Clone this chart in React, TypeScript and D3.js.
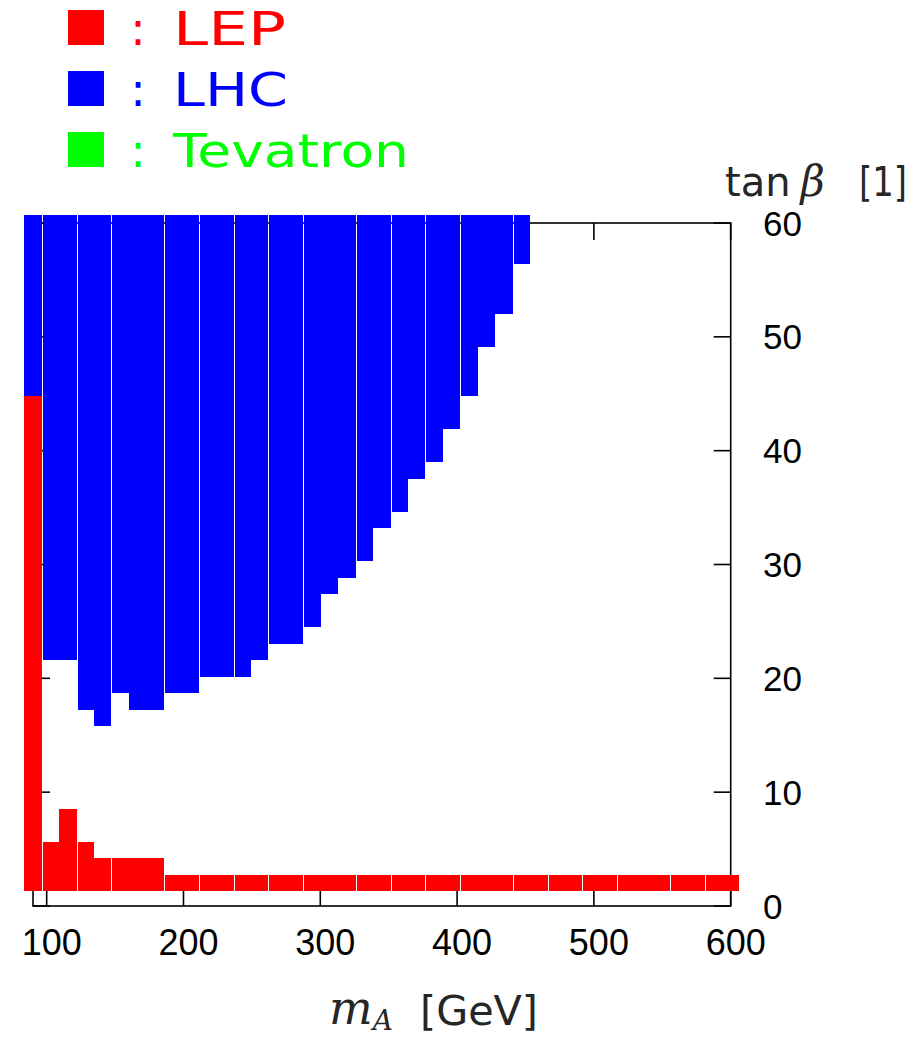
import React from 'react';
import * as d3 from 'd3';

// scan grid (cell centres)
const mAGrid = [
  90, 102.75, 115.5, 128.25, 141, 153.75, 166.5, 179.25, 192, 204.75, 217.5,
  230.25, 243, 255.75, 268.5, 281.25, 294, 306.75, 319.5, 332.25, 345, 357.75,
  370.5, 383.25, 396, 408.75, 421.5, 434.25, 447, 459.75, 472.5, 485.25, 498,
  510.75, 523.5, 536.25, 549, 561.75, 574.5, 587.25, 600
];
const tanBetaGrid = [
  2, 3.45, 4.9, 6.35, 7.8, 9.25, 10.7, 12.15, 13.6, 15.05, 16.5, 17.95, 19.4,
  20.85, 22.3, 23.75, 25.2, 26.65, 28.1, 29.55, 31, 32.45, 33.9, 35.35, 36.8,
  38.25, 39.7, 41.15, 42.6, 44.05, 45.5, 46.95, 48.4, 49.85, 51.3, 52.75, 54.2,
  55.65, 57.1, 58.55, 60
];

// highest tan(beta) grid point excluded by LEP, per mA column
const lepMax = [
  44.05, 4.9, 7.8, 4.9, 3.45, 3.45, 3.45, 3.45, 2, 2, 2, 2, 2, 2, 2, 2, 2, 2, 2,
  2, 2, 2, 2, 2, 2, 2, 2, 2, 2, 2, 2, 2, 2, 2, 2, 2, 2, 2, 2, 2, 2
];
// lowest tan(beta) grid point excluded by LHC, per mA column (null = none)
const lhcMin = [
  45.5, 22.3, 22.3, 17.95, 16.5, 19.4, 17.95, 17.95, 19.4, 19.4, 20.85, 20.85,
  20.85, 22.3, 23.75, 23.75, 25.2, 28.1, 29.55, 31, 33.9, 35.35, 38.25, 39.7,
  42.6, 45.5, 49.85, 52.75, 57.1, null, null, null, null, null, null, null,
  null, null, null, null, null
];
// lowest tan(beta) excluded by Tevatron (none in this scan)
const tevMin = mAGrid.map(() => null);

// column boundaries where the rendered map shows a thin white seam
const seams = [1, 3, 5, 8, 10, 12, 14, 16, 19, 21, 23, 25, 28, 30, 32, 34, 37, 39];

const xTicks = [100, 200, 300, 400, 500, 600];
const yTicks = [0, 10, 20, 30, 40, 50, 60];

const legend = [
  { label: 'LEP', color: '#ff0000', width: 113 },
  { label: 'LHC', color: '#0000ff', width: 115 },
  { label: 'Tevatron', color: '#00ff00', width: 236 }
];

const W = 922, H = 1039;
const frame = { left: 33, right: 730.7, top: 223, bottom: 906 };
const TICK = 17;

export default function App() {
  const x = d3.scaleLinear().domain([90, 600]).range([frame.left, frame.right]);
  const y = d3.scaleLinear().domain([0, 60]).range([frame.bottom, frame.top]);

  const dm = (mAGrid[1] - mAGrid[0]) / 2;
  const dt = (tanBetaGrid[1] - tanBetaGrid[0]) / 2;
  const tTop = tanBetaGrid[tanBetaGrid.length - 1] + dt;
  const tBottom = tanBetaGrid[0] - dt;

  const cells: { key: string; x: number; y: number; w: number; h: number; c: string }[] = [];
  mAGrid.forEach((m, i) => {
    let x0 = x(m - dm);
    const x1 = x(m + dm);
    if (seams.includes(i)) x0 += 1;
    if (lepMax[i] != null) {
      cells.push({ key: 'lep' + i, x: x0, w: x1 - x0, y: y(lepMax[i] + dt), h: y(tBottom) - y(lepMax[i] + dt), c: '#ff0000' });
    }
    if (tevMin[i] != null) {
      const t0 = (tevMin[i] as number) - dt;
      cells.push({ key: 'tev' + i, x: x0, w: x1 - x0, y: y(tTop), h: y(t0) - y(tTop), c: '#00ff00' });
    }
    if (lhcMin[i] != null) {
      const t0 = (lhcMin[i] as number) - dt;
      cells.push({ key: 'lhc' + i, x: x0, w: x1 - x0, y: y(tTop), h: y(t0) - y(tTop), c: '#0000ff' });
    }
  });

  return (
    <svg width={W} height={H} style={{ position: 'absolute', left: 0, top: 0, background: '#fff' }}
      fontFamily="'Liberation Sans', Arial, sans-serif">
      {/* legend */}
      {legend.map((d, i) => {
        const base = 45 + i * 61;
        return (
          <g key={d.label}>
            <rect x={68} y={base - 35} width={36} height={35} fill={d.color} />
            <text x={138} y={base} fill={d.color} fontSize={46} textAnchor="middle"
              fontFamily="'DejaVu Sans', sans-serif">:</text>
            <text x={173} y={base} fill={d.color} fontSize={47} textLength={d.width}
              lengthAdjust="spacingAndGlyphs" fontFamily="'DejaVu Sans', sans-serif">{d.label}</text>
          </g>
        );
      })}

      {/* frame and inward ticks */}
      <g stroke="#000" strokeWidth={1.6} fill="none">
        <rect x={frame.left} y={frame.top} width={frame.right - frame.left} height={frame.bottom - frame.top} />
        {xTicks.map(t => (
          <g key={'xt' + t}>
            <line x1={x(t)} x2={x(t)} y1={frame.bottom} y2={frame.bottom - TICK} />
            <line x1={x(t)} x2={x(t)} y1={frame.top} y2={frame.top + TICK} />
          </g>
        ))}
        {yTicks.map(t => (
          <g key={'yt' + t}>
            <line x1={frame.left} x2={frame.left + TICK} y1={y(t)} y2={y(t)} />
            <line x1={frame.right} x2={frame.right - TICK} y1={y(t)} y2={y(t)} />
          </g>
        ))}
      </g>

      {/* excluded cells */}
      <g shapeRendering="crispEdges">
        {cells.map(c => (
          <rect key={c.key} x={c.x} y={c.y} width={c.w} height={c.h} fill={c.c} />
        ))}
      </g>

      {/* tick labels */}
      {xTicks.map(t => (
        <text key={'xl' + t} x={x(t) + 5} y={955} fontSize={36} textAnchor="middle">{t}</text>
      ))}
      {yTicks.map(t => (
        <text key={'yl' + t} x={763} y={y(t) + 12.5} fontSize={35}>{t}</text>
      ))}

      {/* axis titles */}
      <text x={725} y={196} fontSize={40} fill="#262626" fontFamily="'DejaVu Sans', sans-serif">
        tan
        <tspan dx={10} fontFamily="'DejaVu Serif', serif" fontStyle="italic" fontSize={42}>β</tspan>
      </text>
      <text x={859} y={196} fontSize={40} fill="#262626" textLength={48} lengthAdjust="spacingAndGlyphs"
        fontFamily="'DejaVu Sans', sans-serif">[1]</text>
      <text x={329} y={1024} fontSize={46} fill="#262626" fontFamily="'DejaVu Serif', serif" fontStyle="italic">
        m
        <tspan dy={6} fontSize={28}>A</tspan>
      </text>
      <text x={420} y={1025} fontSize={40} fill="#262626" textLength={118} lengthAdjust="spacingAndGlyphs"
        fontFamily="'DejaVu Sans', sans-serif">[GeV]</text>
    </svg>
  );
}
